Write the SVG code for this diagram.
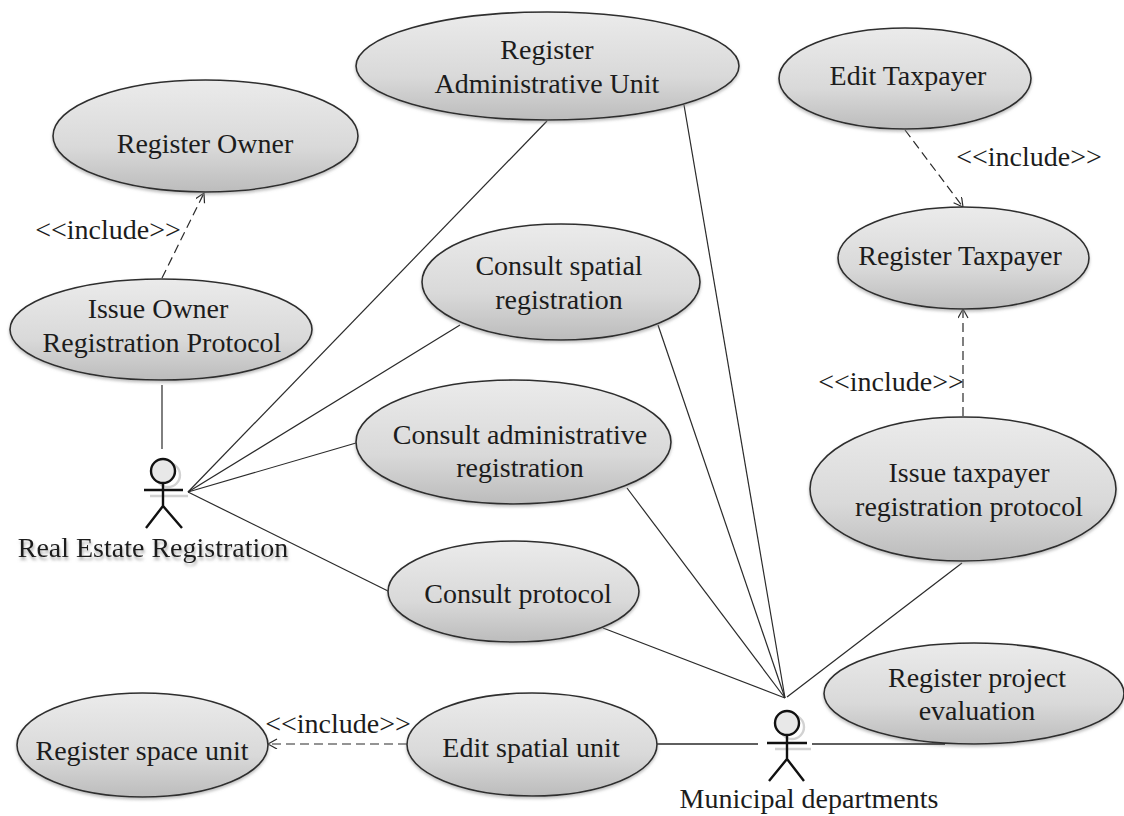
<svg xmlns="http://www.w3.org/2000/svg" width="1124" height="816" viewBox="0 0 1124 816">
<style>
text{font-family:"Liberation Serif","Times New Roman",serif;font-size:28px;fill:#1c1c1c;text-anchor:middle}
.u{fill:url(#g);stroke:#2e2e2e;stroke-width:1.6;filter:url(#s)}
.c{stroke:#2a2a2a;stroke-width:1.2;fill:none}
.d{stroke-dasharray:9 5}
.a{stroke:#111;stroke-width:2.4;fill:none}
.b{stroke:#d2d2d2;stroke-width:2.4;fill:none}
.t{filter:url(#ts)}
</style>
<defs>
<linearGradient id="g" x1="0" y1="0" x2="0" y2="1"><stop offset="0" stop-color="#ebebeb"/><stop offset=".6" stop-color="#d9d9d9"/><stop offset="1" stop-color="#bcbcbc"/></linearGradient>
<filter id="s" x="-10%" y="-10%" width="120%" height="125%"><feDropShadow dx="0" dy="2" stdDeviation="1.5" flood-color="#888" flood-opacity=".55"/></filter>
<filter id="ts" x="-5%" y="-20%" width="110%" height="150%"><feDropShadow dx="1" dy="3" stdDeviation="1.5" flood-color="#777" flood-opacity=".6"/></filter>
<marker id="o" markerWidth="12" markerHeight="12" refX="10" refY="5" orient="auto" markerUnits="userSpaceOnUse"><path d="M1 0L10 5L1 10" fill="none" stroke="#2a2a2a" stroke-width="1.2"/></marker>
</defs>
<rect width="1124" height="816" fill="#fff"/>
<g id="connectors">
<path class="c d" marker-end="url(#o)" d="M162 278L204 193"/>
<path class="c d" marker-end="url(#o)" d="M905 130L963 207"/>
<path class="c d" marker-end="url(#o)" d="M963 416V309"/>
<path class="c d" marker-end="url(#o)" d="M407 744H268"/>
<path class="c" d="M162 385V449"/>
<path class="c" d="M188 492L547 121"/>
<path class="c" d="M188 492L460 325"/>
<path class="c" d="M188 492L356 443"/>
<path class="c" d="M188 492L388 591"/>
<path class="c" d="M785 698L684 105"/>
<path class="c" d="M785 698L658 325"/>
<path class="c" d="M785 698L627 488"/>
<path class="c" d="M785 698L603 628"/>
<path class="c" d="M787 697L962 563"/>
<path class="c" style="stroke-width:1.6" d="M657 744H758"/>
</g>
<g id="register-admin"><ellipse class="u" cx="547.500" cy="66" rx="191.500" ry="54"/><text x="547" y="59">Register</text><text x="547" y="93">Administrative Unit</text></g>
<g id="edit-taxpayer"><ellipse class="u" cx="905" cy="78.500" rx="126" ry="50.500"/><text x="908" y="85">Edit Taxpayer</text></g>
<g id="register-owner"><ellipse class="u" cx="205.500" cy="136" rx="152.500" ry="56"/><text x="205" y="153">Register Owner</text></g>
<g id="register-taxpayer"><ellipse class="u" cx="963.500" cy="258" rx="125.500" ry="51"/><text x="960" y="265">Register Taxpayer</text></g>
<g id="consult-spatial"><ellipse class="u" cx="561" cy="282" rx="139" ry="58"/><text x="559" y="275">Consult spatial</text><text x="559" y="309">registration</text></g>
<g id="issue-owner"><ellipse class="u" cx="161" cy="329.500" rx="151" ry="50.500"/><text x="158" y="318">Issue Owner</text><text x="162" y="352">Registration Protocol</text></g>
<g id="consult-admin"><ellipse class="u" cx="513.500" cy="442" rx="157.500" ry="62"/><text x="520" y="444">Consult administrative</text><text x="520" y="477">registration</text></g>
<g id="issue-taxpayer"><ellipse class="u" cx="963" cy="489" rx="153" ry="72"/><text x="969" y="482">Issue taxpayer</text><text x="969" y="516">registration protocol</text></g>
<g id="consult-protocol"><ellipse class="u" cx="513.500" cy="591.500" rx="125.500" ry="50.500"/><text x="518" y="603">Consult protocol</text></g>
<g id="register-project"><ellipse class="u" cx="974" cy="693.500" rx="150" ry="50.500"/><text x="977" y="687">Register project</text><text x="977" y="720">evaluation</text></g>
<path class="c" style="stroke-width:1.6" d="M812 744H945"/>
<g id="edit-spatial"><ellipse class="u" cx="532" cy="744.500" rx="125" ry="51.500"/><text x="531" y="757">Edit spatial unit</text></g>
<g id="register-space"><ellipse class="u" cx="142.500" cy="745" rx="125.500" ry="52"/><text x="142" y="760">Register space unit</text></g>
<g id="actor-real-estate"><circle class="b" cx="168" cy="475" r="12"/><path class="b" d="M150 496H188"/><circle class="a" cx="163" cy="471" r="12" style="fill:#e8e8e8"/><path class="a" d="M163 483V506M144 490H183M146 528L163 506L182 528"/><text class="t" x="153" y="557">Real Estate Registration</text></g>
<g id="actor-municipal"><circle class="b" cx="792" cy="727" r="12"/><path class="b" d="M775 749H811"/><circle class="a" cx="787" cy="723" r="12" style="fill:#e8e8e8"/><path class="a" d="M787 735V759M767 743H807M769 781L787 759L804 781"/><text x="809" y="808">Municipal departments</text></g>
<text x="108" y="239">&lt;&lt;include&gt;&gt;</text>
<text x="1029" y="166">&lt;&lt;include&gt;&gt;</text>
<text x="891" y="391">&lt;&lt;include&gt;&gt;</text>
<text x="338" y="733">&lt;&lt;include&gt;&gt;</text>
</svg>
